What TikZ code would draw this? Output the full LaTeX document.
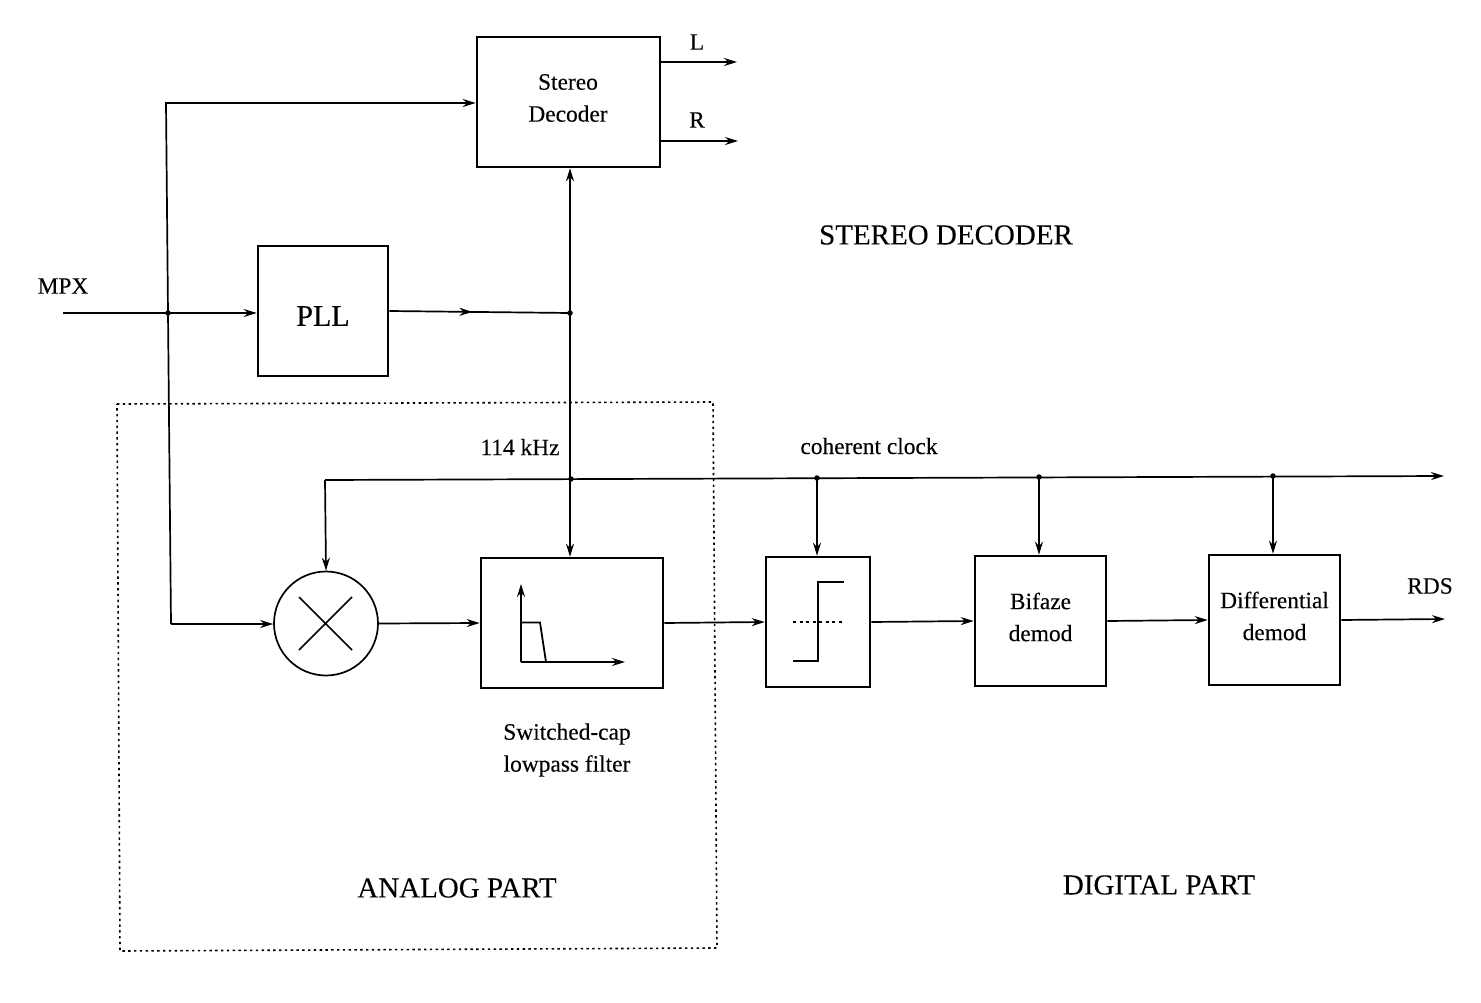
\documentclass[tikz,border=0pt]{standalone}
\usepackage{fontspec}
\setmainfont[FakeBold=0.15]{Liberation Serif}
\usetikzlibrary{arrows.meta,decorations.markings}
\tikzset{
  x=1pt,y=-1pt,
  blockbox/.style={draw=black,line width=2.6pt,rectangle,inner sep=0pt,align=center},
  blocktext/.style={inner sep=0pt,align=center,font=\fontsize{23.4}{32}\selectfont},
  wire/.style={draw=black,line width=1.7pt},
  arr/.style={wire,-{Stealth[length=13pt,width=8pt]}},
  biarr/.style={wire,{Stealth[length=13pt,width=8pt]}-{Stealth[length=13pt,width=8pt]}},
  dotj/.style={circle,fill=black,inner sep=0pt,minimum size=5.5pt},
  lbl/.style={inner sep=0pt,font=\fontsize{23.4}{32}\selectfont,align=center},
  biglbl/.style={inner sep=0pt,font=\fontsize{29}{34}\selectfont},
  midarrow/.style={postaction={decorate},decoration={markings,mark=at position #1 with {\arrow{Stealth[length=13pt,width=8pt]}}}}
}
\begin{document}
\begin{tikzpicture}
\useasboundingbox (0,0) rectangle (1481,1003);
\fill[white] (0,0) rectangle (1481,1003);
% dotted region
\coordinate (a1) at (117,404);
\coordinate (a2) at (713,402);
\coordinate (a3) at (717,948);
\coordinate (a4) at (120,951);
\draw[line width=1.6pt,dash pattern=on 2.4pt off 3.4pt] (a1)--(a2)--(a3)--(a4)--cycle;
% blocks
\node[blockbox,minimum width=183pt,minimum height=130pt] (stereo) at (568.5,102) {};
\node[blockbox,minimum width=130pt,minimum height=130pt] (pll) at (323,311) {};
\node[draw=black,line width=1.7pt,circle,minimum size=104pt,inner sep=0pt] (mix) at (326,623.5) {};
\node[blockbox,minimum width=182pt,minimum height=130pt] (filt) at (572,623) {};
\node[blockbox,minimum width=104pt,minimum height=130pt] (comp) at (818,622) {};
\node[blockbox,minimum width=131pt,minimum height=130pt] (bif) at (1040.5,621) {};
\node[blockbox,minimum width=131pt,minimum height=130pt] (diff) at (1274.5,620) {};
\node[blocktext] (tstereo) at (568,98) {Stereo\\Decoder};
\node[inner sep=0pt,font=\fontsize{30}{36}\selectfont] (tpll) at (323,316) {PLL};
\node[blocktext] (tbif) at (1040.5,617) {Bifaze\\demod};
\node[blocktext] (tdiff) at (1274.5,616) {Differential\\demod};
% multiplier cross
\coordinate (m1) at (299,597);
\coordinate (m2) at (352,650);
\coordinate (m3) at (352,597);
\coordinate (m4) at (299,650);
\draw[line width=1.6pt] (m1)--(m2) (m3)--(m4);
% filter icon
\coordinate (o) at (521,662);
\draw[arr] (o)--(521,584);
\draw[arr] (o)--(625,662);
\draw[line width=1.8pt] (521,622.5)--(540,622.5)--(546,662);
% comparator icon
\draw[line width=1.7pt] (793,661)--(818,661)--(818,582)--(844,582);
\draw[line width=1.5pt,dash pattern=on 3pt off 3.5pt] (793,622)--(843,622);
% coordinates
\coordinate (in) at (63,313);
\coordinate (j1) at (168,313);
\coordinate (top) at (166,103);
\coordinate (bot) at (171,624);
\coordinate (j2) at (570,313);
\coordinate (c0) at (325,480);
\coordinate (cj1) at (571,479);
\coordinate (cj2) at (817,478);
\coordinate (cj3) at (1039,477);
\coordinate (cj4) at (1273,476);
\coordinate (cend) at (1444,476);
\coordinate (lend) at (737,62);
\coordinate (rend) at (738,141);
\coordinate (rds) at (1445,619);
% wires
\draw[arr] (in)--(j1)--(pll.west |- j1);
\draw[arr] (j1)--(top)--(stereo.west |- top);
\draw[wire] (j1)--(bot);
\draw[arr] (bot)--(mix.west |- bot);
\draw[wire,midarrow=0.46] (pll.east)--(j2);
\draw[biarr] (stereo.south -| j2)--(filt.north -| j2);
\draw[arr] (c0)--(cend);
\draw[arr] (c0)--(mix.north);
\draw[arr] (cj2)--(comp.north -| cj2);
\draw[arr] (cj3)--(bif.north -| cj3);
\draw[arr] (cj4)--(diff.north -| cj4);
\draw[arr] (mix.east)--(filt.west);
\draw[arr] (filt.east)--(comp.west);
\draw[arr] (comp.east)--(bif.west);
\draw[arr] (bif.east)--(diff.west);
\draw[arr] (diff.east)--(rds);
\draw[arr] (stereo.east |- lend)--(lend);
\draw[arr] (stereo.east |- rend)--(rend);
% junctions
\foreach \p in {j1,j2,cj1,cj2,cj3,cj4} \node[dotj] at (\p) {};
% labels
\node[lbl] (tl) at (697,42) {L};
\node[lbl] (tr) at (697,120) {R};
\node[lbl] (tmpx) at (63,286) {MPX};
\node[lbl] (tk) at (520,447) {114 kHz};
\node[lbl] (tc) at (869,446) {coherent clock};
\node[lbl] (trds) at (1430,586) {RDS};
\node[lbl] (tsw) at (567,750) {Switched-cap\\lowpass filter};
\node[biglbl] (ts) at (946,235) {STEREO DECODER};
\node[biglbl] (ta) at (457,888) {ANALOG PART};
\node[biglbl] (td) at (1159,885) {DIGITAL PART};
\end{tikzpicture}
\end{document}
